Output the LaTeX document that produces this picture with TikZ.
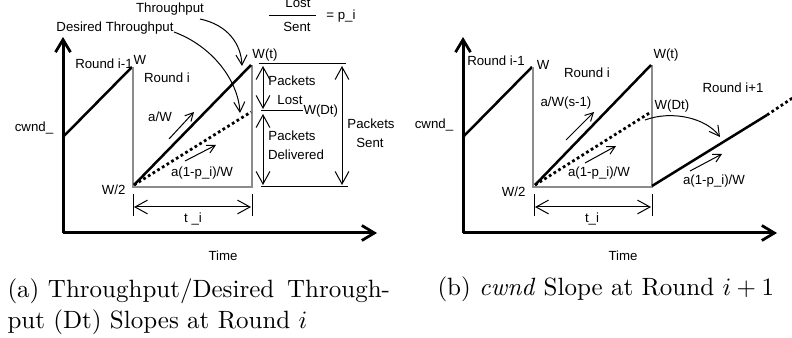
\documentclass[tikz,border=0pt]{standalone}
\usepackage{fontspec}
\newfontfamily\labfont{Liberation Sans}
\usetikzlibrary{arrows.meta}
\begin{document}
\begin{tikzpicture}[x=0.4pt,y=-0.4pt,
  lbl/.style={font=\labfont\fontsize{5.3}{6}\selectfont, inner sep=0pt},
  axisline/.style={line width=1.2pt,-{Straight Barb[length=5pt,width=6pt,line width=1.1pt]}},
  cwndline/.style={line width=1pt},
  grayline/.style={line width=0.9pt,black!45},
  dotline/.style={line width=1.1pt,dash pattern=on 1.1pt off 1.1pt},
  thinline/.style={line width=0.4pt},
  dimarrow/.style={line width=0.4pt,{Straight Barb[length=5pt,width=5.5pt]}-{Straight Barb[length=5pt,width=5.5pt]}},
  slopearrow/.style={line width=0.4pt,-{Straight Barb[length=3.2pt,width=3.4pt]}},
  curvearrow/.style={line width=0.4pt,-{Straight Barb[length=4pt,width=4.4pt]}},
  capfont/.style={font=\fontsize{10}{12.5}\selectfont, inner sep=0pt}
]
\useasboundingbox (0,0) rectangle (792,338);

% ================= Panel (a) =================
\coordinate (aO) at (63,233);
\coordinate (aYt) at (63,37);
\coordinate (aXt) at (377,233);
\draw[axisline] (aO) -- (aYt);
\draw[axisline] (aO) -- (aXt);

\coordinate (aP1) at (63,137);
\coordinate (aP2) at (132,67);
\draw[cwndline] (aP1) -- (aP2);

\coordinate (aG1) at (133,67);
\coordinate (aG2) at (133,187);
\coordinate (aG3) at (252,187);
\coordinate (aG4) at (252,65);
\draw[grayline] (aG1) -- (aG2) -- (aG3) -- (aG4);

\coordinate (aS) at (134,185);
\coordinate (aWt) at (251,65);
\coordinate (aDt) at (251,112);
\draw[cwndline] (aS) -- (aWt);
\draw[dotline] (aS) -- (aDt);

\node[lbl,anchor=east] (aW2) at (126,190) {W/2};
\node[lbl] (aRim1) at (104,64) {Round i-1};
\node[lbl] (aWtop) at (140,60) {W};
\node[lbl] (aRi) at (167,78) {Round i};
\node[lbl] (aaW) at (160,117) {a/W};
\coordinate (aA1s) at (169,139);
\coordinate (aA1e) at (194,112);
\draw[slopearrow] (aA1s) -- (aA1e);
\coordinate (aA2s) at (185,161);
\coordinate (aA2e) at (216,145);
\draw[slopearrow] (aA2s) -- (aA2e);
\node[lbl] (aapW) at (202,173) {a(1-p\_i)/W};
\node[lbl] (aWtl) at (265,55) {W(t)};
\node[lbl] (acwnd) at (34,128) {cwnd\_};

% time interval
\coordinate (aT1a) at (133,194); \coordinate (aT1b) at (133,216);
\coordinate (aT2a) at (252,194); \coordinate (aT2b) at (252,216);
\draw[thinline] (aT1a) -- (aT1b);
\draw[thinline] (aT2a) -- (aT2b);
\coordinate (aTl) at (134,207); \coordinate (aTr) at (251,207);
\draw[dimarrow] (aTl) -- (aTr);
\node[lbl] (ati) at (193,219) {t \_i};
\node[lbl] (atime) at (223,256) {Time};

% throughput labels and curved arrows
\node[lbl] (athr) at (170,9) {Throughput};
\coordinate (athrE) at (242,66);
\draw[curvearrow] (200,19) .. controls (228,25) and (241,44) .. (athrE);
\node[lbl] (adthr) at (115,28) {Desired Throughput};
\coordinate (adthrE) at (240,113);
\draw[curvearrow] (174,32) .. controls (212,46) and (238,80) .. (adthrE);

% fraction
\node[lbl] (alost) at (298,3) {Lost};
\coordinate (afr1) at (269,16); \coordinate (afr2) at (316,16);
\draw[thinline] (afr1) -- (afr2);
\node[lbl] (asent) at (297,27) {Sent};
\node[lbl] (apeq) at (341,16) {= p\_i};

% packets
\coordinate (aL1a) at (259,64); \coordinate (aL1b) at (346,64);
\coordinate (aL2a) at (261,111);
\coordinate (aL3a) at (261,187); \coordinate (aL3b) at (348,187);
\draw[thinline] (aL1a) -- (aL1b);
\node[lbl,anchor=west] (aWDt) at (303,111) {W(Dt)};
\draw[thinline] (aL2a) -- (aWDt.west);
\draw[thinline] (aL3a) -- (aL3b);
\coordinate (aV1a) at (263,66); \coordinate (aV1b) at (263,109);
\coordinate (aV2a) at (263,114); \coordinate (aV2b) at (263,185);
\coordinate (aV3a) at (342,66); \coordinate (aV3b) at (342,185);
\draw[dimarrow] (aV1a) -- (aV1b);
\draw[dimarrow] (aV2a) -- (aV2b);
\draw[dimarrow] (aV3a) -- (aV3b);
\node[lbl] (apk1) at (292,81) {Packets};
\node[lbl] (alst) at (290,100) {Lost};
\node[lbl] (apk2) at (292,136) {Packets};
\node[lbl] (adel) at (296,155) {Delivered};
\node[lbl] (apk3) at (371,124) {Packets};
\node[lbl] (asnt) at (370,143) {Sent};

% caption (a)
\node[capfont,anchor=north west,text width=153pt,align=left] (capa) at (7,278)
  {\hbox to 153pt{(a)\hspace{3.4pt}Throughput/Desired\hfill Through-}\\ put (Dt) Slopes at Round $i$};

% ================= Panel (b) =================
\coordinate (bO) at (463,233);
\coordinate (bYt) at (463,37);
\coordinate (bXt) at (777,233);
\draw[axisline] (bO) -- (bYt);
\draw[axisline] (bO) -- (bXt);

\coordinate (bP1) at (463,137);
\coordinate (bP2) at (532,67);
\draw[cwndline] (bP1) -- (bP2);

\coordinate (bG1) at (533,67);
\coordinate (bG2) at (533,187);
\coordinate (bG3) at (652,187);
\coordinate (bG4) at (652,65);
\draw[grayline] (bG1) -- (bG2) -- (bG3) -- (bG4);

\coordinate (bS) at (535,185);
\coordinate (bWt) at (651,65);
\coordinate (bDt) at (651,112);
\draw[cwndline] (bS) -- (bWt);
\draw[dotline] (bS) -- (bDt);

\coordinate (bN1) at (652,186);
\coordinate (bN2) at (767,115);
\coordinate (bN3) at (794,97);
\draw[cwndline] (bN1) -- (bN2);
\draw[dotline] (bN2) -- (bN3);

\coordinate (bCs) at (645,120);
\coordinate (bCe) at (720,137);
\draw[curvearrow] (bCs) .. controls (672,110) and (706,118) .. (bCe);

\node[lbl,anchor=east] (bW2) at (526,192) {W/2};
\node[lbl] (bRim1) at (496,61) {Round i-1};
\node[lbl] (bWtop) at (543,65) {W};
\node[lbl] (bRi) at (587,73) {Round i};
\node[lbl] (bRip1) at (733,88) {Round i+1};
\node[lbl] (baWs) at (566,103) {a/W(s-1)};
\coordinate (bA1s) at (566,140); \coordinate (bA1e) at (594,112);
\draw[slopearrow] (bA1s) -- (bA1e);
\coordinate (bA2s) at (585,163); \coordinate (bA2e) at (616,146);
\draw[slopearrow] (bA2s) -- (bA2e);
\node[lbl] (bapW) at (599,173) {a(1-p\_i)/W};
\coordinate (bA3s) at (690,171); \coordinate (bA3e) at (722,154);
\draw[slopearrow] (bA3s) -- (bA3e);
\node[lbl] (bapW2) at (714,181) {a(1-p\_i)/W};
\node[lbl] (bWtl) at (666,55) {W(t)};
\node[lbl] (bWDt) at (672,106) {W(Dt)};
\node[lbl] (bcwnd) at (434,125) {cwnd\_};

\coordinate (bT1a) at (534,194); \coordinate (bT1b) at (534,216);
\coordinate (bT2a) at (652,194); \coordinate (bT2b) at (652,216);
\draw[thinline] (bT1a) -- (bT1b);
\draw[thinline] (bT2a) -- (bT2b);
\coordinate (bTl) at (535,207); \coordinate (bTr) at (651,207);
\draw[dimarrow] (bTl) -- (bTr);
\node[lbl] (bti) at (592,219) {t\_i};
\node[lbl] (btime) at (623,256) {Time};

% caption (b)
\node[capfont,anchor=base west] (capb) at (437,296)
  {(b) \emph{cwnd} Slope at Round $i+1$};
\end{tikzpicture}
\end{document}
